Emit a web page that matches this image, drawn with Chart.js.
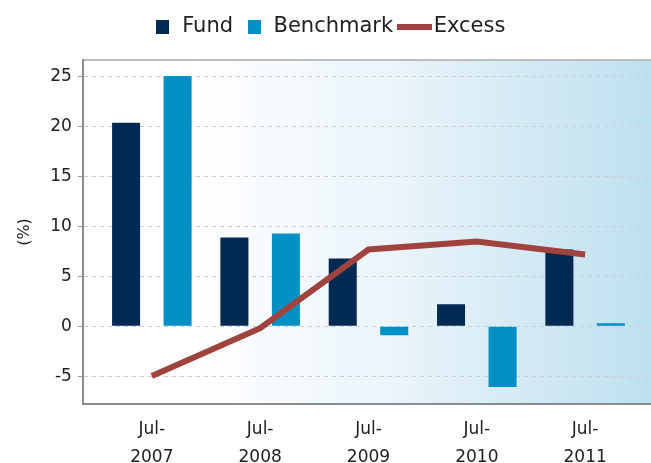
<!DOCTYPE html>
<html>
<head>
<meta charset="utf-8">
<script src="https://cdn.jsdelivr.net/npm/chart.js@4/dist/chart.umd.min.js"></script>
<style>
  html, body { margin: 0; padding: 0; background: #fff; }
  #wrap { width: 651px; height: 463px; }
</style>
</head>
<body>
<div id="wrap"><canvas id="perfChart"></canvas></div>
<script>
// values
var categories = ['Jul-2007', 'Jul-2008', 'Jul-2009', 'Jul-2010', 'Jul-2011'];
var fundValues = [20.4, 8.9, 6.8, 2.2, 7.7];
var benchmarkValues = [25.1, 9.3, -0.9, -6.1, 0.3];
var excessValues = [-5.0, -0.2, 7.7, 8.5, 7.2];
var yTicks = [-5, 0, 5, 10, 15, 20, 25];

var FUND_COLOR = '#002a52';
var BENCH_COLOR = '#0090c6';
var EXCESS_COLOR = '#a0423e';

function points(values) {
  return values.map(function (v, i) { return { x: i, y: v }; });
}

// little swatches for the legend
function swatch(w, h, color) {
  var c = document.createElement('canvas');
  c.width = w; c.height = h;
  var g = c.getContext('2d');
  g.fillStyle = color;
  g.fillRect(0, 0, w, h);
  return c;
}
var legendStyles = [swatch(13, 14, FUND_COLOR), swatch(13, 14, BENCH_COLOR), swatch(35, 6, EXCESS_COLOR)];

// gradient background + top frame line
var plotBackground = {
  id: 'plotBackground',
  beforeLayout: function (chart) {
    // leave a gap between legend and plot
    var lg = chart.legend;
    if (lg && !lg._gapPatched) {
      var fit = lg.fit.bind(lg);
      lg.fit = function () { fit(); this.height += 13; };
      lg._gapPatched = true;
    }
  },
  beforeDraw: function (chart) {
    var a = chart.chartArea, ctx = chart.ctx;
    var grad = ctx.createLinearGradient(a.left, 0, a.right, 0);
    grad.addColorStop(0, '#ffffff');
    grad.addColorStop(0.19, '#ffffff');
    grad.addColorStop(0.55, '#eaf4fa');
    grad.addColorStop(1, '#bde0ef');
    ctx.save();
    ctx.fillStyle = grad;
    ctx.fillRect(a.left, a.top, a.right - a.left, a.bottom - a.top);
    ctx.strokeStyle = '#bdbdbd';
    ctx.lineWidth = 2;
    ctx.beginPath();
    ctx.moveTo(a.left, a.top);
    ctx.lineTo(a.right, a.top);
    ctx.stroke();
    ctx.restore();
  }
};

var ctx = document.getElementById('perfChart').getContext('2d');
var perfChart = new Chart(ctx, {
  data: {
    datasets: [
      {
        type: 'bar',
        label: 'Fund',
        data: points(fundValues),
        backgroundColor: FUND_COLOR,
        categoryPercentage: 0.951,
        barPercentage: 0.544,
        order: 2
      },
      {
        type: 'bar',
        label: 'Benchmark',
        data: points(benchmarkValues),
        backgroundColor: BENCH_COLOR,
        categoryPercentage: 0.951,
        barPercentage: 0.544,
        order: 2
      },
      {
        type: 'line',
        label: 'Excess',
        data: points(excessValues),
        borderColor: EXCESS_COLOR,
        backgroundColor: EXCESS_COLOR,
        borderWidth: 6,
        pointRadius: 0,
        tension: 0,
        order: 1
      }
    ]
  },
  options: {
    responsive: true,
    maintainAspectRatio: false,
    animation: false,
    layout: { padding: { left: 8, right: 0, top: 4, bottom: 0 } },
    plugins: {
      tooltip: { enabled: false },
      legend: {
        position: 'top',
        labels: {
          usePointStyle: true,
          pointStyleWidth: 18,
          padding: 12,
          color: '#222',
          font: { family: 'DejaVu Sans', size: 21 },
          sort: function (a, b) { return a.datasetIndex - b.datasetIndex; },
          generateLabels: function (chart) {
            var items = Chart.defaults.plugins.legend.labels.generateLabels(chart);
            items.forEach(function (it) { it.pointStyle = legendStyles[it.datasetIndex]; });
            return items;
          }
        }
      }
    },
    scales: {
      x: {
        type: 'linear',
        offset: false,
        min: -0.637,
        max: 4.608,
        grid: { display: false, drawTicks: false, offset: false },
        border: { display: true, color: '#8c8c8c', width: 2 },
        afterBuildTicks: function (scale) {
          scale.ticks = categories.map(function (c, i) { return { value: i }; });
        },
        afterFit: function (scale) { scale.height = 59; },
        ticks: {
          padding: 12,
          color: '#222',
          maxRotation: 0,
          autoSkip: false,
          font: { family: 'DejaVu Sans', size: 17, lineHeight: 1.65 },
          callback: function (value) {
            var c = categories[value];
            if (!c) return '';
            var parts = c.split('-');
            return [parts[0] + '-', parts[1]];
          }
        }
      },
      y: {
        min: -7.8,
        max: 26.7,
        grid: { color: '#cfcfcf', tickColor: '#9a9a9a', tickLength: 5 },
        border: { display: true, color: '#8c8c8c', width: 2, dash: [4, 4] },
        afterBuildTicks: function (scale) {
          scale.ticks = yTicks.map(function (v) { return { value: v }; });
        },
        ticks: {
          padding: 6,
          color: '#222',
          font: { family: 'DejaVu Sans', size: 17 }
        },
        title: {
          display: true,
          text: '(%)',
          color: '#222',
          padding: { top: 7, bottom: 10 },
          font: { family: 'DejaVu Sans', size: 16 }
        }
      }
    }
  },
  plugins: [plotBackground]
});
</script>
</body>
</html>
